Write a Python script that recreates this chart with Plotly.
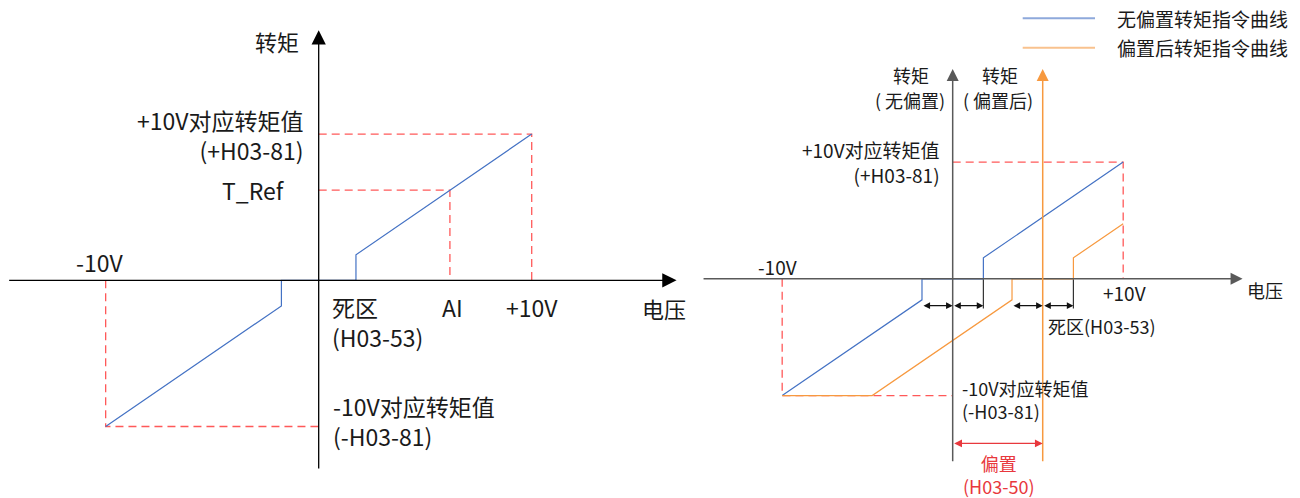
import plotly.graph_objects as go

# 左图：无偏置时的转矩指令（电压 V，转矩 %）
volt_l = [-10, -1.75, -1.75, 1.75, 1.75, 10]
torque_l = [-100, -17.5, 0, 0, 17.5, 100]
ai_volt = 6.16
t_ref = 61.6

# 右图：偏置前后
volt_blue = [-10, -1.8, -1.8, 1.8, 1.8, 10]
torque_blue = [-100, -18, 0, 0, 18, 100]
volt_orange = [-10, -4.72, 3.48, 3.48, 7.08, 7.08, 10]
torque_orange = [-100, -100, -18, 0, 0, 18, 47.2]
bias = 5.28
dead = 1.8

BLUE = '#4472C4'
ORANGE = '#F7993F'
RED = 'rgba(255,60,60,0.85)'
FONT = 'Noto Sans CJK SC'

fig = go.Figure()


def line(x, y, xa, ya, color, width=1.2, dash=None, name=None):
    fig.add_trace(go.Scatter(x=x, y=y, xaxis=xa, yaxis=ya, mode='lines', name=name,
                             line=dict(color=color, width=width, dash=dash),
                             showlegend=False, hoverinfo='skip'))


def arrow(x, y, ax, ay, xr, yr, color, w, size, both=False):
    return dict(x=x, y=y, ax=ax, ay=ay, xref=xr, yref=yr, axref=xr, ayref=yr,
                text='', showarrow=True, arrowhead=2, arrowsize=size, arrowwidth=w,
                arrowcolor=color, standoff=0, startstandoff=0,
                arrowside='end+start' if both else 'end',
                startarrowhead=2, startarrowsize=size)


def label(x, y, text, xr, yr, size, anchor='center', color='#1a1a1a'):
    return dict(x=x, y=y, xref=xr, yref=yr, text=text, showarrow=False, align=anchor,
                xanchor=anchor, yanchor='middle', font=dict(family=FONT, size=size, color=color))


dash = '8px,5px'
# ---- 左图 ----
line([0, 10, 10], [100, 100, 0], 'x', 'y', RED, 1.3, dash)
line([0, ai_volt, ai_volt], [t_ref, t_ref, 0], 'x', 'y', RED, 1.3, dash)
line([-10, -10, 0], [0, -100, -100], 'x', 'y', RED, 1.3, dash)
line(volt_l, torque_l, 'x', 'y', BLUE, 1.2, name='转矩指令')

# ---- 右图 ----
line([0, 10, 10], [100, 100, 0], 'x2', 'y2', RED, 1.3, dash)
line([-10, -10, 0], [0, -100, -100], 'x2', 'y2', RED, 1.3, dash)
line([dead, dead], [0, -25.5], 'x2', 'y2', '#333333', 1.2)
line([bias + dead, bias + dead], [0, -25.5], 'x2', 'y2', '#333333', 1.2)
line(volt_blue, torque_blue, 'x2', 'y2', BLUE, 1.2, name='无偏置转矩指令曲线')
line(volt_orange, torque_orange, 'x2', 'y2', ORANGE, 1.2, name='偏置后转矩指令曲线')

ann = []
# 左图坐标轴
ann.append(arrow(16.8, 0, -14.6, 0, 'x', 'y', '#000000', 1.3, 2.2))
ann.append(arrow(0, 171, 0, -129.8, 'x', 'y', '#000000', 1.3, 2.2))
# 右图坐标轴
ann.append(arrow(17.0, 0, -14.7, 0, 'x2', 'y2', '#595959', 1.5, 1.6))
ann.append(arrow(0, 179.8, 0, -157.6, 'x2', 'y2', '#595959', 1.5, 1.6))
ann.append(arrow(bias, 179.8, bias, -157.6, 'x2', 'y2', ORANGE, 1.5, 1.6))
# 死区箭头
for a, b in [(-dead, 0), (0, dead), (bias - dead, bias), (bias, bias + dead)]:
    ann.append(arrow(b, -23, a, -23, 'x2', 'y2', '#111111', 1.1, 1.2, both=True))
# 偏置箭头
ann.append(arrow(bias, -141, 0, -141, 'x2', 'y2', '#E8383D', 1.3, 1.2, both=True))

L = 23
ann += [
    label(-0.85, 163.7, '转矩', 'x', 'y', 22, 'right'),
    label(-0.6, 99.3, '+10V对应转矩值<br>(+H03-81)', 'x', 'y', L, 'right'),
    label(-1.5, 61.8, 'T_Ref', 'x', 'y', L, 'right'),
    label(-10.27, 12.5, '-10V', 'x', 'y', L),
    label(0.53, -28.5, '死区<br>(H03-53)', 'x', 'y', L, 'left'),
    label(6.3, -18.3, 'AI', 'x', 'y', L),
    label(10.0, -18.3, '+10V', 'x', 'y', L),
    label(16.2, -18.9, '电压', 'x', 'y', 22),
    label(0.6, -96.2, '-10V对应转矩值<br>(-H03-81)', 'x', 'y', L, 'left'),
]
R = 18
ann += [
    label(-2.45, 174.8, '转矩', 'x2', 'y2', R),
    label(-2.5, 153.0, '( 无偏置)', 'x2', 'y2', R),
    label(2.77, 174.8, '转矩', 'x2', 'y2', R),
    label(2.65, 153.0, '( 偏置后)', 'x2', 'y2', R),
    label(-0.63, 99.7, '+10V对应转矩值<br>(+H03-81)', 'x2', 'y2', 19, 'right'),
    label(-10.25, 10.5, '-10V', 'x2', 'y2', 19),
    label(10.1, -11.9, '+10V', 'x2', 'y2', 19),
    label(18.33, -9.9, '电压', 'x2', 'y2', R),
    label(5.47, -40.7, '死区(H03-53)', 'x2', 'y2', R, 'left'),
    label(0.43, -103.0, '-10V对应转矩值<br>(-H03-81)', 'x2', 'y2', R, 'left'),
    label(2.67, -167.4, '偏置<br>(H03-50)', 'x2', 'y2', R, color='#E8383D'),
]

# 图例
legend_items = [('无偏置转矩指令曲线', '#8EA9DB'), ('偏置后转矩指令曲线', '#F9C28E')]
shapes = []
for i, (name, col) in enumerate(legend_items):
    yy = 1 - (18.3 + 29.4 * i) / 498
    shapes.append(dict(type='line', xref='paper', yref='paper', x0=1022.7 / 1300, x1=1095 / 1300,
                       y0=yy, y1=yy, line=dict(color=col, width=2)))
    ann.append(dict(x=1115 / 1300, y=yy, xref='paper', yref='paper', text=name, showarrow=False,
                    xanchor='left', yanchor='middle', font=dict(family=FONT, size=19, color='#1a1a1a')))

hidden = dict(visible=False, showgrid=False, zeroline=False, fixedrange=True)
fig.update_layout(
    width=1300, height=498,
    margin=dict(l=0, r=0, t=0, b=0),
    paper_bgcolor='white', plot_bgcolor='white',
    xaxis=dict(domain=[0, 700 / 1300], range=[-14.96, 17.90], **hidden),
    yaxis=dict(domain=[0, 1], range=[-148.9, 191.7], **hidden),
    xaxis2=dict(domain=[700 / 1300, 1], range=[-14.82, 20.37], **hidden),
    yaxis2=dict(domain=[0, 1], range=[-187.8, 238.9], anchor='x2', **hidden),
    annotations=ann,
    shapes=shapes,
    showlegend=False,
)

fig.write_html('out.html', config={'displayModeBar': False},
               post_script="document.body.style.margin='0';document.body.style.overflow='hidden';")
